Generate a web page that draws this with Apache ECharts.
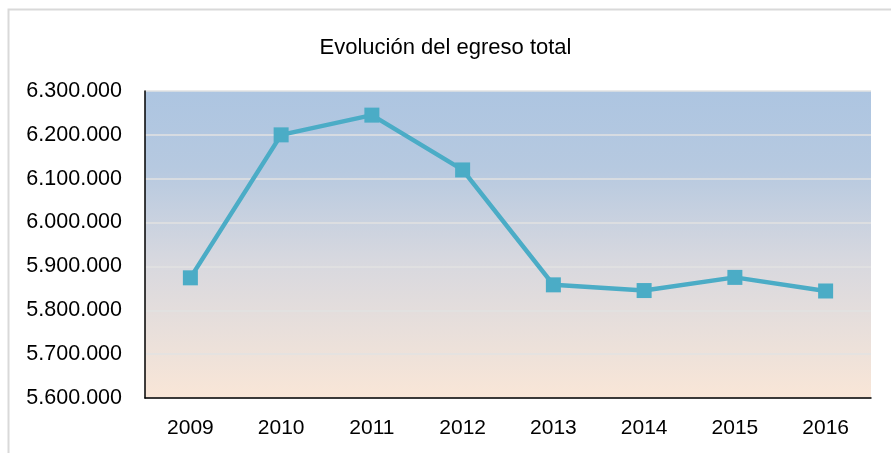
<!DOCTYPE html>
<html lang="es">
<head>
  <meta charset="utf-8">
  <title>Evolución del egreso total</title>
  <style>
    html, body { margin: 0; padding: 0; background: #fff; }
    #chart1 { width: 891px; height: 453px; }
  </style>
</head>
<body>
<script src="https://cdn.jsdelivr.net/npm/echarts@6/dist/echarts.min.js"></script>
<div id="chart1"></div>
<script>
  var titulo = 'Evolución del egreso total';
  var anios = ['2009', '2010', '2011', '2012', '2013', '2014', '2015', '2016'];
  var egreso = [5874000, 6200000, 6245000, 6120000, 5858000, 5845000, 5875000, 5844000];

  function formatoMiles(v) {
    return String(v).replace(/\B(?=(\d{3})+(?!\d))/g, '.');
  }

  var chart1 = echarts.init(document.getElementById('chart1'));
  var option = {
    animation: false,
    textStyle: { fontFamily: 'Liberation Sans' },
    title: {
      text: titulo,
      left: 'center',
      top: 32,
      textStyle: { fontSize: 22, fontWeight: 'normal', color: '#000', fontFamily: 'Liberation Sans' }
    },
    graphic: [{
      type: 'rect',
      left: 6, top: 7,
      shape: { width: 900, height: 460 },
      style: { fill: null, stroke: '#d9d9d9', lineWidth: 2 },
      silent: true
    }],
    grid: {
      left: 145, right: 20, top: 91, bottom: 55,
      show: true,
      borderWidth: 0,
      backgroundColor: new echarts.graphic.LinearGradient(0, 0, 0, 1, [
        { offset: 0, color: '#adc5e1' },
        { offset: 0.25, color: '#b6c9e0' },
        { offset: 0.55, color: '#d7d8df' },
        { offset: 1, color: '#f9e6d7' }
      ])
    },
    xAxis: {
      type: 'category',
      data: anios,
      boundaryGap: true,
      axisLine: { lineStyle: { color: '#000', width: 1.5 } },
      axisTick: { show: false },
      axisLabel: { fontSize: 21, color: '#000', margin: 20 }
    },
    yAxis: {
      type: 'value',
      min: 5600000,
      max: 6300000,
      interval: 100000,
      axisLine: { show: true, lineStyle: { color: '#000', width: 1.5 } },
      axisTick: { show: false },
      axisLabel: { fontSize: 21.5, color: '#000', margin: 23, formatter: formatoMiles },
      splitLine: { lineStyle: { color: '#e2e2e2', width: 1.5 } }
    },
    series: [{
      type: 'line',
      data: egreso,
      symbol: 'rect',
      symbolSize: 15,
      itemStyle: { color: '#4bacc6' },
      lineStyle: { color: '#4bacc6', width: 4.5 }
    }]
  };
  chart1.setOption(option);
</script>
</body>
</html>
